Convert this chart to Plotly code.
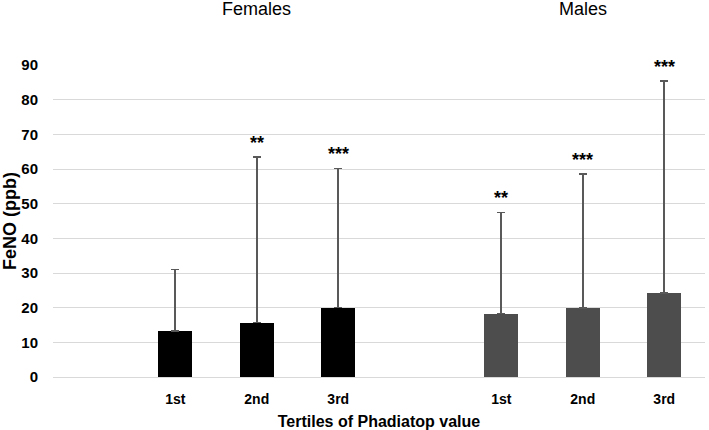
import plotly.graph_objects as go

tertiles = ["1st", "2nd", "3rd"]
female_means = [13.3, 15.7, 20.0]
female_upper = [31.0, 63.5, 60.2]
female_sig = ["", "**", "***"]
male_means = [18.3, 19.85, 24.3]
male_upper = [47.5, 58.5, 85.3]
male_sig = ["**", "***", "***"]
group_titles = ["Females", "Males"]
y_ticks = [0, 10, 20, 30, 40, 50, 60, 70, 80, 90]

f_x = [1, 2, 3]
m_x = [5, 6, 7]

fig = go.Figure()

def add_group(xs, means, upper, color):
    fig.add_trace(go.Bar(
        x=xs, y=means, width=0.417,
        marker=dict(color=color, line=dict(width=0)),
        error_y=dict(type="data", symmetric=False,
                     array=[u - m for u, m in zip(upper, means)],
                     arrayminus=[0] * len(means),
                     color="#595959", thickness=1.6, width=4),
        showlegend=False,
    ))

add_group(f_x, female_means, female_upper, "#000000")
add_group(m_x, male_means, male_upper, "#4d4d4d")

for xs, upper, sig in [(f_x, female_upper, female_sig), (m_x, male_upper, male_sig)]:
    for x, u, s in zip(xs, upper, sig):
        if s:
            fig.add_annotation(x=x, y=u, text="<b>" + s + "</b>", showarrow=False,
                               yanchor="middle", yshift=14,
                               font=dict(family="Liberation Sans", size=18, color="#000000"))

for x, t in zip([2, 6], group_titles):
    fig.add_annotation(x=x, xref="x", y=1, yref="paper", yshift=56, text=t,
                       showarrow=False, yanchor="middle",
                       font=dict(family="Liberation Sans", size=18, color="#000000"))

fig.update_layout(
    width=709, height=430,
    margin=dict(l=53, r=4, t=65, b=53),
    plot_bgcolor="white", paper_bgcolor="white",
    bargap=0,
    font=dict(family="Liberation Sans", color="#000000"),
    xaxis=dict(range=[-0.5, 7.5], tickvals=f_x + m_x, ticktext=tertiles + tertiles,
               showgrid=False, zeroline=False, showline=False, ticks="",
               ticklabelstandoff=12, automargin=False,
               tickfont=dict(size=14, family="Liberation Sans", weight="bold"),
               title=dict(text="<b>Tertiles of Phadiatop value</b>",
                          font=dict(size=16, family="Liberation Sans"), standoff=10)),
    yaxis=dict(range=[0, 90], tickvals=y_ticks, showgrid=True, gridcolor="#d9d9d9",
               gridwidth=1, zeroline=True, zerolinecolor="#d9d9d9", zerolinewidth=1,
               showline=False, ticks="", ticklabelstandoff=14, automargin=False,
               tickfont=dict(size=15, family="Liberation Sans", weight="bold"),
               title=dict(text="<b>FeNO (ppb)</b>",
                          font=dict(size=18, family="Liberation Sans"), standoff=6)),
)

fig.write_html("out.html")
